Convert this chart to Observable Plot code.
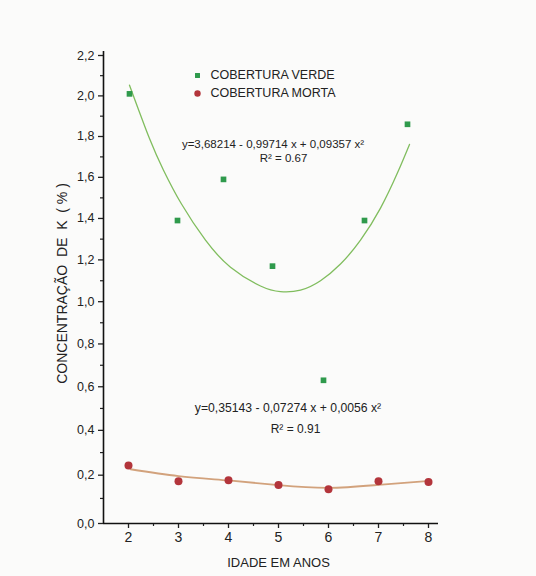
<!DOCTYPE html>
<html>
<head>
<meta charset="utf-8">
<script src="https://cdn.jsdelivr.net/npm/d3@7"></script>
<script src="https://cdn.jsdelivr.net/npm/@observablehq/plot@0.6"></script>
<style>
  html, body { margin: 0; padding: 0; background: #fbfbfa; }
  #chart svg { display: block; }
</style>
</head>
<body>
<div id="chart"></div>
<script>
// ---- data ----
const greenX = [2.02, 2.98, 3.9, 4.88, 5.9, 6.72, 7.58];
const greenY = [2.01, 1.39, 1.59, 1.17, 0.63, 1.39, 1.86];

const deadX = [2, 3, 4, 5, 6, 7, 8];
const deadY = [0.243, 0.174, 0.178, 0.157, 0.139, 0.174, 0.17];

// fitted curves as drawn in the picture
const greenCurveX = [2.02, 2.42, 2.70, 3.06, 3.54, 4.04, 4.64, 5.04, 5.44, 5.84, 6.24, 6.64, 7.04, 7.38, 7.62];
const greenCurveY = [2.053, 1.79, 1.635, 1.47, 1.295, 1.165, 1.075, 1.048, 1.055, 1.10, 1.18, 1.295, 1.45, 1.622, 1.761];

const deadCurveX = [2.04, 3, 4, 5, 6, 7, 7.96];
const deadCurveY = [0.226, 0.196, 0.177, 0.157, 0.145, 0.158, 0.174];

const xTicks = [2, 3, 4, 5, 6, 7, 8];
const xMinor = [2.5, 3.5, 4.5, 5.5, 6.5, 7.5];
const yTicks = [0, 0.2, 0.4, 0.6, 0.8, 1.0, 1.2, 1.4, 1.6, 1.8, 2.0, 2.2];
const yMinor = [0.1, 0.3, 0.5, 0.7, 0.9, 1.1, 1.3, 1.5, 1.7, 1.9, 2.1];

const legendLabels = ["COBERTURA VERDE", "COBERTURA MORTA"];
const eqGreen = ["y=3,68214 - 0,99714 x + 0,09357 x²", "R² = 0.67"];
const eqDead = ["y=0,35143 - 0,07274 x + 0,0056 x²", "R² = 0.91"];
const xLabel = "IDADE EM ANOS";
const yLabel = "CONCENTRAÇÃO  DE  K  ( % )";

const green = greenX.map((x, i) => ({x, y: greenY[i]}));
const dead = deadX.map((x, i) => ({x, y: deadY[i]}));
const greenCurve = greenCurveX.map((x, i) => ({x, y: greenCurveY[i]}));
const deadCurve = deadCurveX.map((x, i) => ({x, y: deadCurveY[i]}));

const fmt = d => d3.format(".1f")(d).replace(".", ",");

const GREEN = "#2f9a4c";
const RED = "#b3353b";
const INK = "#222";

const chart = Plot.plot({
  width: 536,
  height: 576,
  marginLeft: 103,
  marginRight: 98,
  marginTop: 55,
  marginBottom: 53,
  x: {domain: [1.5, 8.2]},
  // the printed axis is slightly uneven (tighter spacing near the top)
  y: {type: "pow", exponent: 0.947, domain: [0, 2.2]},
  style: {fontFamily: "'Liberation Sans', Arial, sans-serif", background: "#fbfbfa", color: INK},
  marks: [
    Plot.axisY({ticks: yTicks, tickSize: 5, tickPadding: 4, tickFormat: fmt, fontSize: 12.5, label: null, strokeWidth: 1.3}),
    Plot.axisY({ticks: yMinor, tickSize: 3, tickFormat: () => "", label: null, strokeWidth: 1.2}),
    Plot.axisX({ticks: xTicks, tickSize: 5, tickPadding: 4, tickFormat: d => String(d), fontSize: 14, label: null, strokeWidth: 1.3}),
    Plot.axisX({ticks: xMinor, tickSize: 3, tickFormat: () => "", label: null, strokeWidth: 1.2}),
    Plot.ruleX([1.5], {y1: 0, y2: 2.22, stroke: "#111", strokeWidth: 1.6}),
    Plot.ruleY([0], {x1: 1.5, x2: 8.2, stroke: "#111", strokeWidth: 1.6}),

    Plot.line(greenCurve, {x: "x", y: "y", curve: "natural", stroke: "#80bd5e", strokeWidth: 1.3}),
    Plot.line(deadCurve, {x: "x", y: "y", curve: "natural", stroke: "#d2a27c", strokeWidth: 1.8}),

    Plot.dot(green, {x: "x", y: "y", symbol: "square", r: 3.2, fill: GREEN, stroke: "none"}),
    Plot.dot(dead, {x: "x", y: "y", r: 4, fill: RED, stroke: "none"}),

    // legend
    Plot.dot([legendLabels[0]], {frameAnchor: "top-left", dx: 94, dy: 20, symbol: "square", r: 2.8, fill: GREEN}),
    Plot.dot([legendLabels[1]], {frameAnchor: "top-left", dx: 94, dy: 38, r: 3.2, fill: RED}),
    Plot.text([legendLabels[0]], {text: d => d, frameAnchor: "top-left", dx: 107, dy: 19, textAnchor: "start", lineAnchor: "middle", fontSize: 12.5, fill: INK}),
    Plot.text([legendLabels[1]], {text: d => d, frameAnchor: "top-left", dx: 107, dy: 37, textAnchor: "start", lineAnchor: "middle", fontSize: 12.5, fill: INK}),

    // equations
    Plot.text([eqGreen[0]], {text: d => d, frameAnchor: "top-left", dx: 169.5, dy: 89, textAnchor: "middle", lineAnchor: "middle", fontSize: 11.5, fill: INK}),
    Plot.text([eqGreen[1]], {text: d => d, frameAnchor: "top-left", dx: 180, dy: 103, textAnchor: "middle", lineAnchor: "middle", fontSize: 11.5, fill: INK}),
    Plot.text([eqDead[0]], {text: d => d, frameAnchor: "top-left", dx: 184.5, dy: 353, textAnchor: "middle", lineAnchor: "middle", fontSize: 12.2, fill: INK}),
    Plot.text([eqDead[1]], {text: d => d, frameAnchor: "top-left", dx: 192, dy: 374, textAnchor: "middle", lineAnchor: "middle", fontSize: 12, fill: INK}),

    // axis titles
    Plot.text([xLabel], {text: d => d, frameAnchor: "bottom", dx: 7.5, dy: 39, textAnchor: "middle", lineAnchor: "middle", fontSize: 13, fill: INK}),
    Plot.text([yLabel], {text: d => d, frameAnchor: "left", rotate: -90, dx: -41, dy: -6, textAnchor: "middle", lineAnchor: "middle", fontSize: 14, fill: INK})
  ]
});

document.getElementById("chart").appendChild(chart);
</script>
</body>
</html>
